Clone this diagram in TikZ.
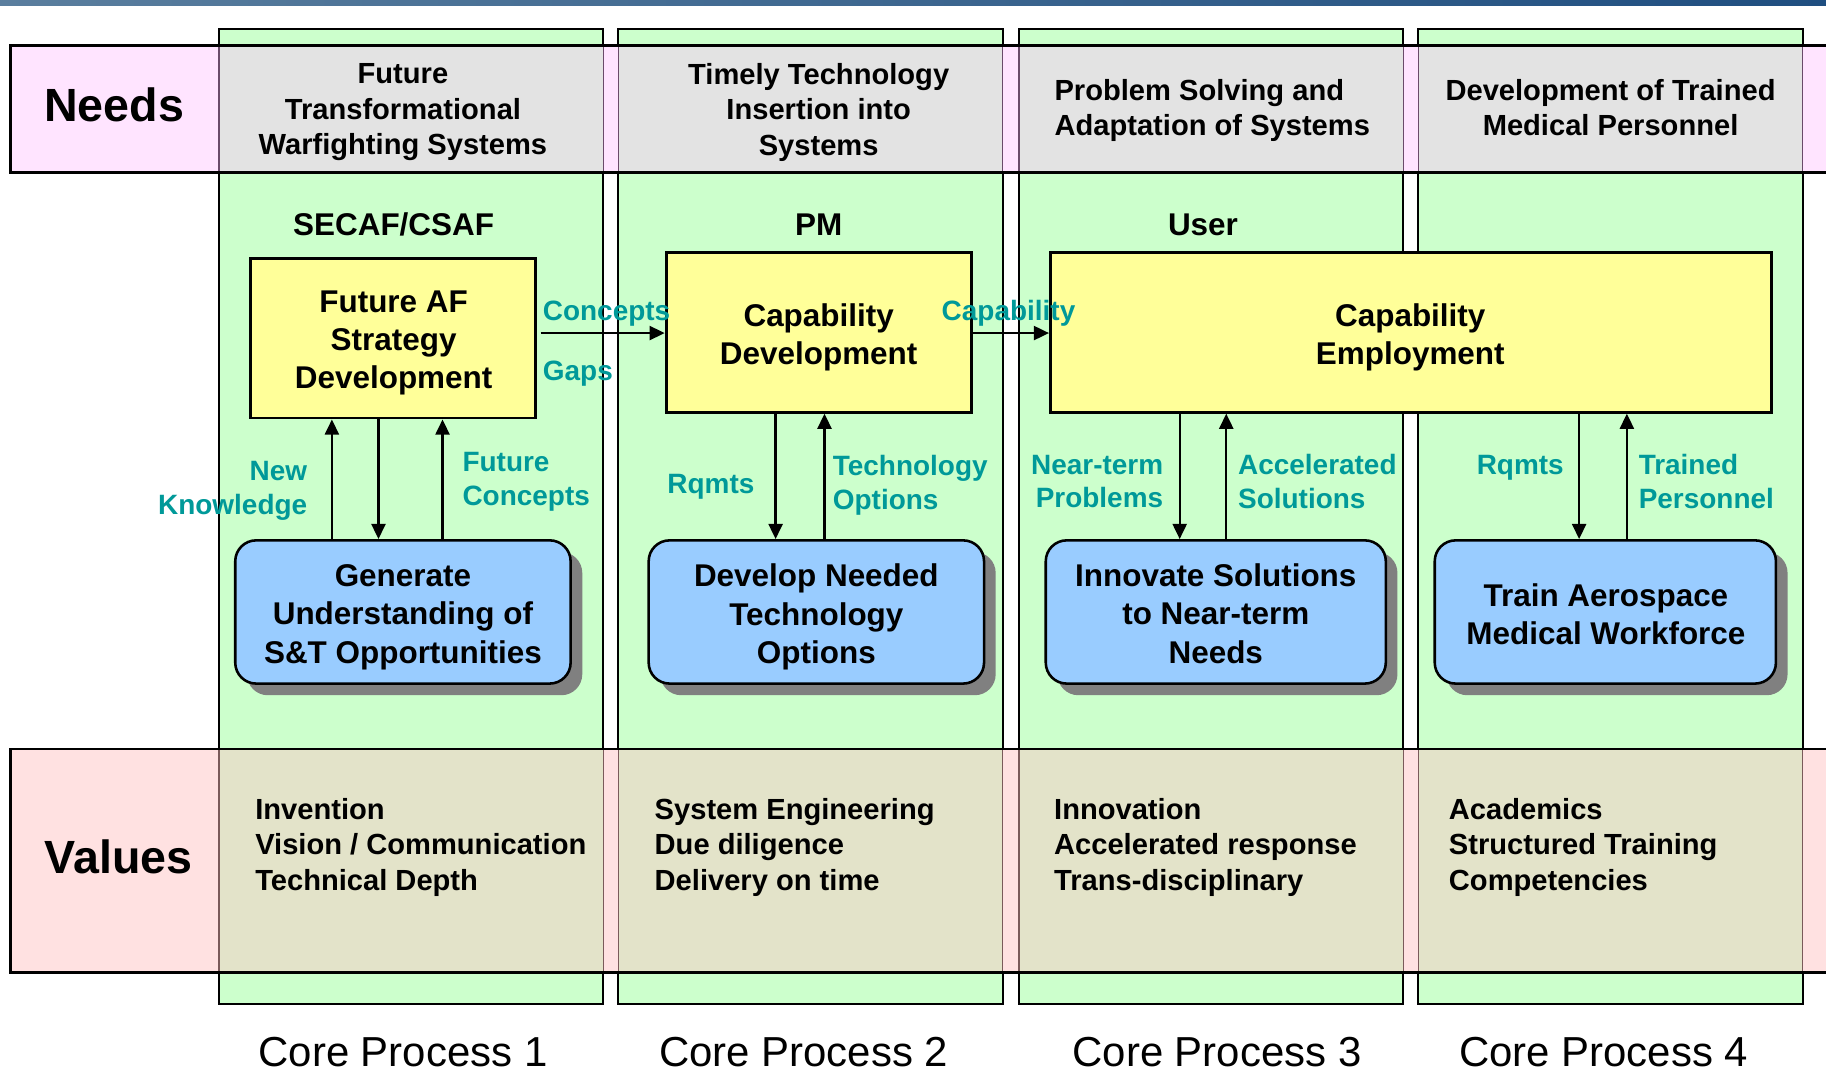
\documentclass[tikz,border=0pt]{standalone}
\usepackage{fontspec}
\setmainfont{Liberation Sans}
\usetikzlibrary{arrows.meta,shadows}
\definecolor{colgreen}{HTML}{CCFFCC}
\definecolor{needpink}{HTML}{FFE4FF}
\definecolor{valpink}{HTML}{FFE1E1}
\definecolor{cellgray}{HTML}{E3E3E3}
\definecolor{cellbeige}{HTML}{E3E3C9}
\definecolor{needline}{HTML}{6A4A6A}
\definecolor{valline}{HTML}{7A5A5A}
\definecolor{yel}{HTML}{FFFF99}
\definecolor{blu}{HTML}{99CCFF}
\definecolor{tealc}{HTML}{009999}
\definecolor{shad}{HTML}{808080}
\definecolor{barL}{HTML}{5A7E9E}
\definecolor{barR}{HTML}{1F4E80}
\tikzset{
  colbox/.style={fill=colgreen, draw=black, line width=1.8pt},
  ybox/.style={draw=black, line width=2.4pt, fill=yel, inner sep=0pt},
  bbox/.style={draw=black, line width=2.2pt, fill=blu, rounded corners=18pt, inner sep=0pt,
    drop shadow={shadow xshift=10pt, shadow yshift=-10pt, fill=shad, opacity=1}},
  boxtext/.style={align=center, inner sep=0pt, font=\fontsize{27}{33}\selectfont\bfseries},
  head/.style={inner sep=0pt, font=\fontsize{27}{33}\selectfont\bfseries},
  needtext/.style={inner sep=0pt, font=\fontsize{25}{30.5}\selectfont\bfseries},
  valtext/.style={inner sep=0pt, align=left, anchor=west, font=\fontsize{25}{30.5}\selectfont\bfseries},
  lab/.style={inner sep=0pt, text=tealc, font=\fontsize{24}{29}\selectfont\bfseries},
  big/.style={inner sep=0pt, font=\fontsize{40}{48}\selectfont\bfseries},
  core/.style={inner sep=0pt, font=\fontsize{36}{43}\selectfont},
  arr/.style={line width=2pt, -{Triangle[length=13pt,width=12pt]}}
}
\begin{document}
\begin{tikzpicture}[x=1pt,y=-1pt]
\useasboundingbox (0,0) rectangle (1568,928);
\fill[white] (0,0) rectangle (1568,928);
\shade[left color=barL, right color=barR] (0,0) rectangle (1568,4.5);

% columns
\foreach \xl in {188,531,875,1218} {
  \draw[colbox] (\xl,25) rectangle ++(330,837);
}

% needs bar
\fill[needpink] (9,39) rectangle (1590,148);
\foreach \xl in {188,531,875,1218} {
  \filldraw[fill=cellgray, draw=needline, line width=1pt] (\xl,39) rectangle ++(330,109);
}
\draw[line width=2pt] (1590,39) -- (9,39) -- (9,148) -- (1590,148);

% values bar
\fill[valpink] (9,643) rectangle (1590,835);
\foreach \xl in {188,531,875,1218} {
  \filldraw[fill=cellbeige, draw=valline, line width=1pt] (\xl,643) rectangle ++(330,192);
}
\draw[line width=2pt] (1590,643) -- (9,643) -- (9,835) -- (1590,835);

% row titles
\node[big] (needs) at (98,90) {Needs};
\node[big] (values) at (102,736) {Values};

% needs texts
\node[needtext, align=center] (n1) at (346,96.5) {Future\\Transformational\\Warfighting Systems};
\node[needtext, align=center] (n2) at (703,96.5) {Timely Technology\\Insertion into\\Systems};
\node[needtext, align=left] (n3) at (1041,95) {Problem Solving and\\Adaptation of Systems};
\node[needtext, align=center] (n4) at (1383,92.5) {Development of Trained\\Medical Personnel};

% headers
\node[head] (h1) at (338,193) {SECAF/CSAF};
\node[head] (h2) at (703,193) {PM};
\node[head] (h3) at (1033,193) {User};

% yellow boxes
\node[ybox, minimum width=245pt, minimum height=137pt] (fad) at (337.5,290.5) {};
\node[boxtext] (fadt) at (338,294.5) {Future AF\\Strategy\\Development};
\node[ybox, minimum width=262pt, minimum height=137pt] (capdev) at (703,285.5) {};
\node[boxtext] (capdevt) at (703,289.5) {Capability\\Development};
\node[ybox, minimum width=619pt, minimum height=137pt] (capemp) at (1211.5,285.5) {};
\node[boxtext] (capempt) at (1211,289.5) {Capability\\Employment};

% blue boxes
\node[bbox, minimum width=288pt, minimum height=123pt] (gen) at (346,525.5) {};
\node[boxtext] (gent) at (346,530) {Generate\\Understanding of\\S\&T Opportunities};
\node[bbox, minimum width=288pt, minimum height=123pt] (dev) at (701,525.5) {};
\node[boxtext] (devt) at (701,530) {Develop Needed\\Technology\\Options};
\node[bbox, minimum width=292pt, minimum height=123pt] (inn) at (1044,525.5) {};
\node[boxtext] (innt) at (1044,527) {Innovate Solutions\\to Near-term\\Needs};
\node[bbox, minimum width=293pt, minimum height=123pt] (trn) at (1378.5,525.5) {};
\node[boxtext] (trnt) at (1379,527.5) {Train Aerospace\\Medical Workforce};

% arrow guide coordinates
\coordinate (a1) at (285,0);
\coordinate (a2) at (325,0);
\coordinate (a3) at (380,0);
\coordinate (b1) at (666,0);
\coordinate (b2) at (708,0);
\coordinate (c1) at (1013,0);
\coordinate (c2) at (1053,0);
\coordinate (d1) at (1356,0);
\coordinate (d2) at (1397,0);
\coordinate (hy) at (0,286);

% vertical arrows
\draw[arr] (gen.north -| a1) -- (fad.south -| a1);
\draw[arr] (fad.south -| a2) -- (gen.north -| a2);
\draw[arr] (gen.north -| a3) -- (fad.south -| a3);
\draw[arr] (capdev.south -| b1) -- (dev.north -| b1);
\draw[arr] (dev.north -| b2) -- (capdev.south -| b2);
\draw[arr] (capemp.south -| c1) -- (inn.north -| c1);
\draw[arr] (inn.north -| c2) -- (capemp.south -| c2);
\draw[arr] (capemp.south -| d1) -- (trn.north -| d1);
\draw[arr] (trn.north -| d2) -- (capemp.south -| d2);

% horizontal arrows
\draw[arr] ([xshift=3pt]fad.east |- hy) -- (capdev.west |- hy);
\draw[arr] (capdev.east |- hy) -- (capemp.west |- hy);

% teal labels
\node[lab, anchor=west] (lconc) at (466,269) {Concepts};
\node[lab, anchor=west] (lgaps) at (466,321) {Gaps};
\node[lab] (lcap) at (866,269) {Capability};
\node[lab, anchor=east, align=right] (lnew) at (264,421.5) {New\\Knowledge};
\node[lab, anchor=west, align=left] (lfut) at (397,413.5) {Future\\Concepts};
\node[lab, anchor=east] (lrq1) at (648,418) {Rqmts};
\node[lab, anchor=west, align=left] (ltech) at (715,416.5) {Technology\\Options};
\node[lab, anchor=east, align=right] (lnear) at (999,413.5) {Near-term\\Problems};
\node[lab, anchor=west, align=left] (lacc) at (1063,413.5) {Accelerated\\Solutions};
\node[lab, anchor=east] (lrq2) at (1343,402) {Rqmts};
\node[lab, anchor=west, align=left] (ltr) at (1407,413.5) {Trained\\Personnel};

% values texts
\node[valtext] (v1) at (219,727.5) {Invention\\Vision / Communication\\Technical Depth};
\node[valtext] (v2) at (562,727.5) {System Engineering\\Due diligence\\Delivery on time};
\node[valtext] (v3) at (905,727.5) {Innovation\\Accelerated response\\Trans-disciplinary};
\node[valtext] (v4) at (1244,727.5) {Academics\\Structured Training\\Competencies};

% core process labels
\node[core] (cp1) at (346,903) {Core Process 1};
\node[core] (cp2) at (690,903) {Core Process 2};
\node[core] (cp3) at (1045,903) {Core Process 3};
\node[core] (cp4) at (1377,903) {Core Process 4};
\end{tikzpicture}
\end{document}
